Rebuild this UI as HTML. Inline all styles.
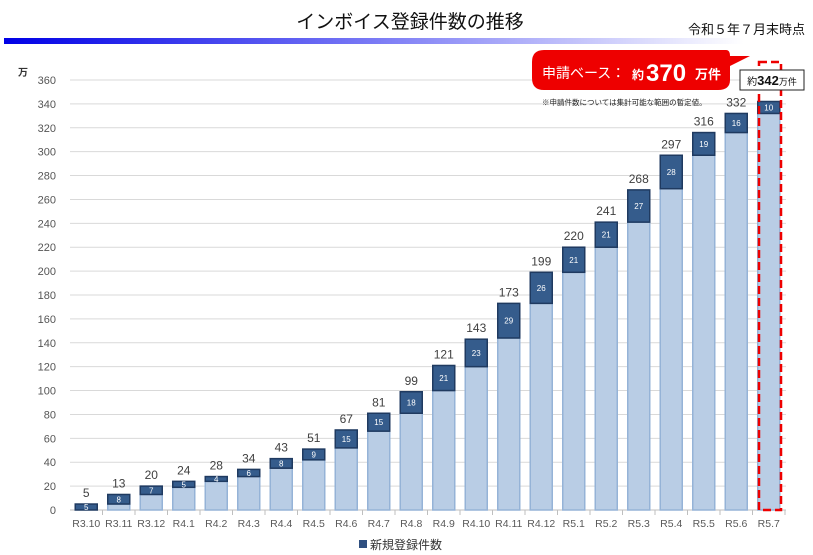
<!DOCTYPE html>
<html><head><meta charset="utf-8"><style>
body{margin:0;background:#fff;width:813px;height:555px;overflow:hidden}
svg{display:block;font-family:"Liberation Sans","Noto Sans CJK JP",sans-serif}
</style></head><body>
<svg id="s" width="813" height="555" viewBox="0 0 813 555">
<defs><linearGradient id="g" x1="0" x2="1"><stop offset="0" stop-color="#0000e6"/><stop offset="0.5" stop-color="#7a7af5"/><stop offset="1" stop-color="#ffffff"/></linearGradient></defs>
<text x="410" y="28" font-size="19" text-anchor="middle" fill="#111">インボイス登録件数の推移</text>
<rect x="4" y="38" width="740" height="6" fill="url(#g)"/>
<text x="805" y="34" font-size="13" text-anchor="end" fill="#111">令和５年７月末時点</text>
<text x="18" y="76" font-size="10" font-weight="bold" fill="#333">万</text>
<g id="grid"></g>
<g id="bars"></g>
<path d="M532 62 Q532 50 544 50 L726 50 Q730 50 730 56 L750 56 L730 66 L730 80 Q730 90 718 90 L544 90 Q532 90 532 78 Z" fill="#ee0000"/>
<text x="542" y="78" font-size="14" fill="#fff">申請ベース：</text>
<text x="632" y="79" font-size="12" fill="#fff" font-weight="bold">約</text>
<text x="646" y="81" font-size="24" fill="#fff" font-weight="bold">370</text>
<text x="695" y="79" font-size="13" fill="#fff" font-weight="bold">万件</text>
<text x="542" y="105" font-size="7.5" fill="#222">※申請件数については集計可能な範囲の暫定値。</text>
<rect x="759" y="62" width="22" height="448" fill="none" stroke="#e00" stroke-width="2.5" stroke-dasharray="8,4"/>
<rect x="740" y="70" width="64" height="20" fill="#fff" stroke="#222" stroke-width="1"/>
<text x="772" y="85" font-size="13" text-anchor="middle" fill="#111"><tspan font-size="10">約</tspan><tspan font-weight="bold">342</tspan><tspan font-size="9">万件</tspan></text>
<rect x="359" y="540" width="8" height="8" fill="#2f4f80"/>
<text x="370" y="549" font-size="12" fill="#333">新規登録件数</text>
</svg>
<script>
var tot=[5,13,20,24,28,34,43,51,67,81,99,121,143,173,199,220,241,268,297,316,332,342];
var nw=[5,8,7,5,4,6,8,9,15,15,18,21,23,29,26,21,21,27,28,19,16,10];
var lb=["R3.10","R3.11","R3.12","R4.1","R4.2","R4.3","R4.4","R4.5","R4.6","R4.7","R4.8","R4.9","R4.10","R4.11","R4.12","R5.1","R5.2","R5.3","R5.4","R5.5","R5.6","R5.7"];
var y0=510,k=430/360,x0=70,step=32.5,bw=22,g="",b="";
for(var v=0;v<=360;v+=20){var y=y0-v*k;g+='<line x1="'+x0+'" x2="786" y1="'+y+'" y2="'+y+'" stroke="#d9d9d9" stroke-width="1"/><text x="56" y="'+(y+4)+'" font-size="11" text-anchor="end" fill="#555">'+v+'</text>';}
g+='<line x1="'+x0+'" x2="786" y1="'+y0+'" y2="'+y0+'" stroke="#bfbfbf"/>';
for(var i=0;i<22;i++){var cx=x0+step*(i+0.5),x=cx-bw/2;
var old=tot[i]-nw[i],yt=y0-tot[i]*k,ym=y0-old*k;
g+='<line x1="'+(x0+step*(i+1))+'" x2="'+(x0+step*(i+1))+'" y1="'+y0+'" y2="'+(y0+5)+'" stroke="#bfbfbf"/>';
b+='<rect x="'+x+'" y="'+ym+'" width="'+bw+'" height="'+(y0-ym)+'" fill="#b9cde5" stroke="#95b3d7" stroke-width="1.5"/>';
b+='<rect x="'+x+'" y="'+yt+'" width="'+bw+'" height="'+(ym-yt)+'" fill="#355c8c" stroke="#1f3a60" stroke-width="1.5"/>';
b+='<text x="'+cx+'" y="'+((yt+ym)/2+3)+'" font-size="8" text-anchor="middle" fill="#fff">'+nw[i]+'</text>';
if(i<21)b+='<text x="'+cx+'" y="'+(yt-7)+'" font-size="12" text-anchor="middle" fill="#404040">'+tot[i]+'</text>';
b+='<text x="'+cx+'" y="'+(y0+17)+'" font-size="10.5" text-anchor="middle" fill="#595959">'+lb[i]+'</text>';}
document.getElementById("grid").innerHTML=g;document.getElementById("bars").innerHTML=b;
</script>
</body></html>
